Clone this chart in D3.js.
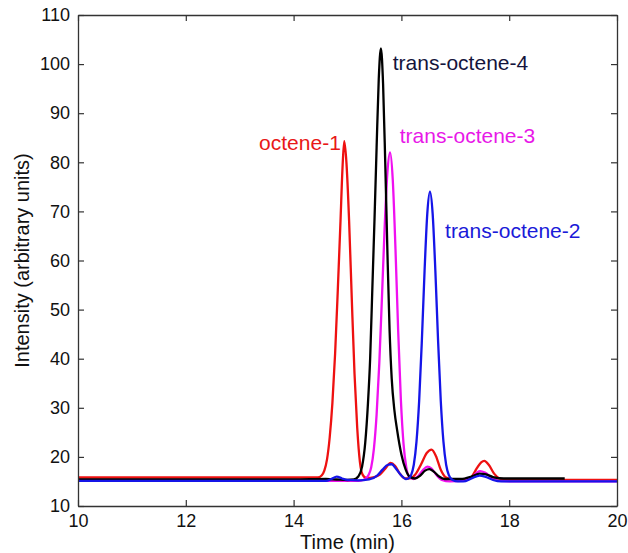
<!DOCTYPE html>
<html>
<head>
<meta charset="utf-8">
<script src="https://cdn.jsdelivr.net/npm/d3@7"></script>
<style>
  body { margin: 0; background: #fff; }
  svg { font-family: "Liberation Sans", Arial, sans-serif; }
</style>
</head>
<body>
<script>
// chromatogram traces, [time (min), intensity]
const octene1 = [
  [10, 15.8], [14.0, 15.8], [14.45, 15.8], [14.52, 16.2], [14.57, 17.2], [14.62, 19.5], [14.67, 24],
  [14.72, 31], [14.77, 41], [14.82, 54], [14.87, 68], [14.91, 79.5], [14.94, 84.3],
  [14.98, 80], [15.03, 68], [15.08, 52], [15.13, 37], [15.18, 26], [15.23, 19],
  [15.28, 16.4], [15.35, 15.7], [15.5, 15.9], [15.6, 16.4], [15.7, 17.6], [15.8, 18.8],
  [15.88, 18.2], [15.97, 16.6], [16.07, 15.6], [16.17, 15.7], [16.27, 16.6], [16.37, 18.6],
  [16.47, 20.8], [16.56, 21.5], [16.64, 20.2], [16.73, 17.4], [16.83, 15.8], [16.95, 15.4],
  [17.2, 15.4], [17.3, 15.9], [17.4, 17.7], [17.48, 18.9], [17.54, 19.2], [17.62, 18.4],
  [17.72, 16.6], [17.82, 15.6], [17.95, 15.3], [18.5, 15.3], [20, 15.3]
];
const transOctene3 = [
  [10, 15.1], [15.2, 15.1], [15.29, 15.3], [15.34, 15.6], [15.39, 16.3], [15.44, 17.9],
  [15.49, 21.7], [15.54, 28.6], [15.59, 39.1], [15.64, 52.7], [15.69, 66.9], [15.74, 77.9],
  [15.79, 82], [15.84, 76.4], [15.89, 62.4], [15.94, 45.7], [15.99, 31.7], [16.04, 22.6],
  [16.09, 17.9], [16.14, 16.0], [16.22, 15.5], [16.3, 16.0], [16.4, 17.3], [16.48, 18.0],
  [16.56, 17.6], [16.65, 16.3], [16.75, 15.3], [16.9, 15.0], [17.15, 15.1], [17.3, 15.8],
  [17.4, 16.8], [17.46, 17.1], [17.55, 16.8], [17.68, 15.7], [17.82, 15.1], [18.2, 15.0],
  [20, 15.0]
];
const transOctene4 = [
  [10, 15.4], [14.0, 15.4], [14.6, 15.5], [14.8, 15.4], [15.0, 15.3], [15.12, 15.4],
  [15.2, 16.0], [15.27, 18], [15.33, 23], [15.38, 31], [15.42, 40], [15.46, 54],
  [15.5, 68], [15.54, 83], [15.58, 97], [15.62, 103.2], [15.66, 96], [15.7, 80],
  [15.74, 62], [15.78, 46], [15.82, 36], [15.87, 29.5], [15.92, 25.5], [16.0, 20.5],
  [16.08, 17.4], [16.15, 16.0], [16.25, 15.6], [16.35, 16.2], [16.44, 17.2], [16.52, 17.5],
  [16.6, 17.0], [16.7, 16.0], [16.8, 15.5], [17.1, 15.5], [17.3, 16.0], [17.45, 16.6],
  [17.55, 16.5], [17.7, 15.9], [17.9, 15.6], [19.03, 15.6]
];
const transOctene2 = [
  [10, 15.1], [14.6, 15.1], [14.7, 15.5], [14.8, 16.0], [14.9, 15.6], [15.0, 15.3],
  [15.2, 15.2], [15.4, 15.4], [15.55, 16.2], [15.65, 17.4], [15.75, 18.4], [15.82, 18.5],
  [15.9, 17.6], [16.0, 16.2], [16.08, 15.5], [16.13, 15.6], [16.18, 16.3], [16.23, 18.4],
  [16.28, 23.1], [16.33, 31.5], [16.38, 43.8], [16.43, 57.9], [16.48, 69.5], [16.53, 74],
  [16.58, 69.5], [16.63, 57.9], [16.68, 43.8], [16.73, 31.5], [16.78, 23.1], [16.83, 18.4],
  [16.88, 16.3], [16.95, 15.3], [17.05, 15.0], [17.15, 15.0], [17.3, 15.6], [17.45, 16.2],
  [17.55, 16.0], [17.7, 15.3], [17.85, 15.0], [20, 15.0]
];

const seriesNames = ['octene-1', 'trans-octene-3', 'trans-octene-4', 'trans-octene-2'];
const seriesData = [octene1, transOctene3, transOctene4, transOctene2];
const seriesColors = ['#ee1111', '#f010f0', '#000000', '#1515e8'];
const labelColors = ['#e81818', '#e818e8', '#14143c', '#1a1ad8'];
// label anchor in data coordinates (time, intensity)
const labelTimes = [13.36, 15.97, 15.84, 16.81];
const labelValues = [82.5, 83.9, 98.8, 64.6];

const xTicks = [10, 12, 14, 16, 18, 20];
const yTicks = [10, 20, 30, 40, 50, 60, 70, 80, 90, 100, 110];

const W = 628, H = 553;
const margin = {left: 78, right: 11, top: 15, bottom: 47};
const width = W - margin.left - margin.right,
      height = H - margin.top - margin.bottom;

const svg = d3.select('body').append('svg')
    .attr('width', W)
    .attr('height', H);

const g = svg.append('g')
    .attr('transform', 'translate(' + margin.left + ',' + margin.top + ')');

const x = d3.scaleLinear().domain([10, 20]).range([0, width]);
const y = d3.scaleLinear().domain([10, 110]).range([height, 0]);

const line = d3.line()
    .x(d => x(d[0]))
    .y(d => y(d[1]))
    .curve(d3.curveMonotoneX);

// traces
seriesData.forEach((s, i) => {
    g.append('path')
        .datum(s)
        .attr('fill', 'none')
        .attr('stroke', seriesColors[i])
        .attr('stroke-width', 2.3)
        .attr('stroke-linejoin', 'round')
        .attr('d', line);
});

// axes with inward ticks on all four sides
const tickLen = 6;
const axisColor = '#333';
g.append('g')
    .attr('transform', 'translate(0,' + height + ')')
    .call(d3.axisBottom(x).tickValues(xTicks).tickSizeInner(-tickLen).tickSizeOuter(0).tickPadding(8))
    .call(a => a.selectAll('text').style('font-size', '18px').attr('fill', '#111'));
g.append('g')
    .call(d3.axisTop(x).tickValues(xTicks).tickSizeInner(-tickLen).tickSizeOuter(0).tickFormat(''));
g.append('g')
    .call(d3.axisLeft(y).tickValues(yTicks).tickSizeInner(-tickLen).tickSizeOuter(0).tickPadding(8))
    .call(a => a.selectAll('text').style('font-size', '18px').attr('fill', '#111'));
g.append('g')
    .attr('transform', 'translate(' + width + ',0)')
    .call(d3.axisRight(y).tickValues(yTicks).tickSizeInner(-tickLen).tickSizeOuter(0).tickFormat(''));

g.selectAll('.domain').attr('stroke', axisColor).attr('stroke-width', 1.3);
g.selectAll('.tick line').attr('stroke', axisColor).attr('stroke-width', 1.2);
g.selectAll('.tick text').attr('font-family', '"Liberation Sans", Arial, sans-serif');

// series labels
seriesNames.forEach((name, i) => {
    g.append('text')
        .attr('x', x(labelTimes[i]))
        .attr('y', y(labelValues[i]))
        .attr('fill', labelColors[i])
        .style('font-size', '21px')
        .text(name);
});

// axis titles
g.append('text')
    .attr('x', width / 2)
    .attr('y', height + 43)
    .attr('text-anchor', 'middle')
    .attr('fill', '#111')
    .style('font-size', '20px')
    .text('Time (min)');
g.append('text')
    .attr('transform', 'translate(' + (-49) + ',' + (height / 2) + ') rotate(-90)')
    .attr('text-anchor', 'middle')
    .attr('fill', '#111')
    .style('font-size', '20px')
    .text('Intensity (arbitrary units)');
</script>
</body>
</html>
